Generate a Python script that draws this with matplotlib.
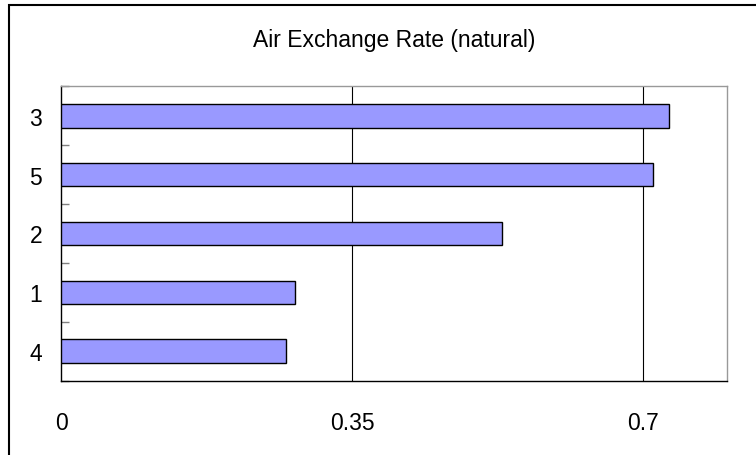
import matplotlib
matplotlib.use('Agg')
import matplotlib.pyplot as plt
import numpy as np
from matplotlib.patches import Rectangle

plt.rcParams['font.family'] = ['Liberation Sans', 'DejaVu Sans']

# categories listed bottom -> top
labels = ['4', '1', '2', '5', '3']
rates = [0.270, 0.281, 0.530, 0.711, 0.731]
xticks = [0, 0.35, 0.7]
xticklabels = ['0', '0.35', '0.7']

fig = plt.figure(figsize=(7.56, 4.56), dpi=100)
ax = fig.add_axes([61 / 756, 1 - 381.7 / 456, (726.7 - 61) / 756, (381.7 - 87.3) / 456])

pos = np.arange(len(labels))
ax.barh(pos, rates, height=0.4, color='#9999FF', edgecolor='black', linewidth=1.0, zorder=3)

ax.set_xlim(0, 0.8)
ax.set_ylim(-0.5, len(labels) - 0.5)

ax.set_xticks(xticks)
ax.set_xticklabels(xticklabels, fontsize=16.5)
ax.tick_params(axis='x', length=0, pad=22)
for x in xticks[1:]:
    ax.axvline(x, color='black', linewidth=0.8, zorder=1)

# labels at the bar centres, small inward ticks at the boundaries
ax.set_yticks(pos)
ax.set_yticklabels(labels, fontsize=16.5)
ax.tick_params(axis='y', which='major', length=0, pad=13.5)
ax.set_yticks(np.arange(-0.5, len(labels)), minor=True)
ax.tick_params(axis='y', which='minor', direction='in', length=6, width=1, color='#808080')

for side in ['left', 'bottom']:
    ax.spines[side].set_color('black')
    ax.spines[side].set_linewidth(1.0)
for side in ['top', 'right']:
    ax.spines[side].set_color('#999999')
    ax.spines[side].set_linewidth(1.0)

ax.set_title('Air Exchange Rate (natural)', fontsize=16.5, pad=29)

# outer chart frame
fig.patches.append(Rectangle((8.5 / 756, -0.2), 1.2, 1.2 - 5.5 / 456, transform=fig.transFigure,
                             fill=False, edgecolor='black', linewidth=1.5, clip_on=False))

fig.savefig('out.png', dpi=100)
